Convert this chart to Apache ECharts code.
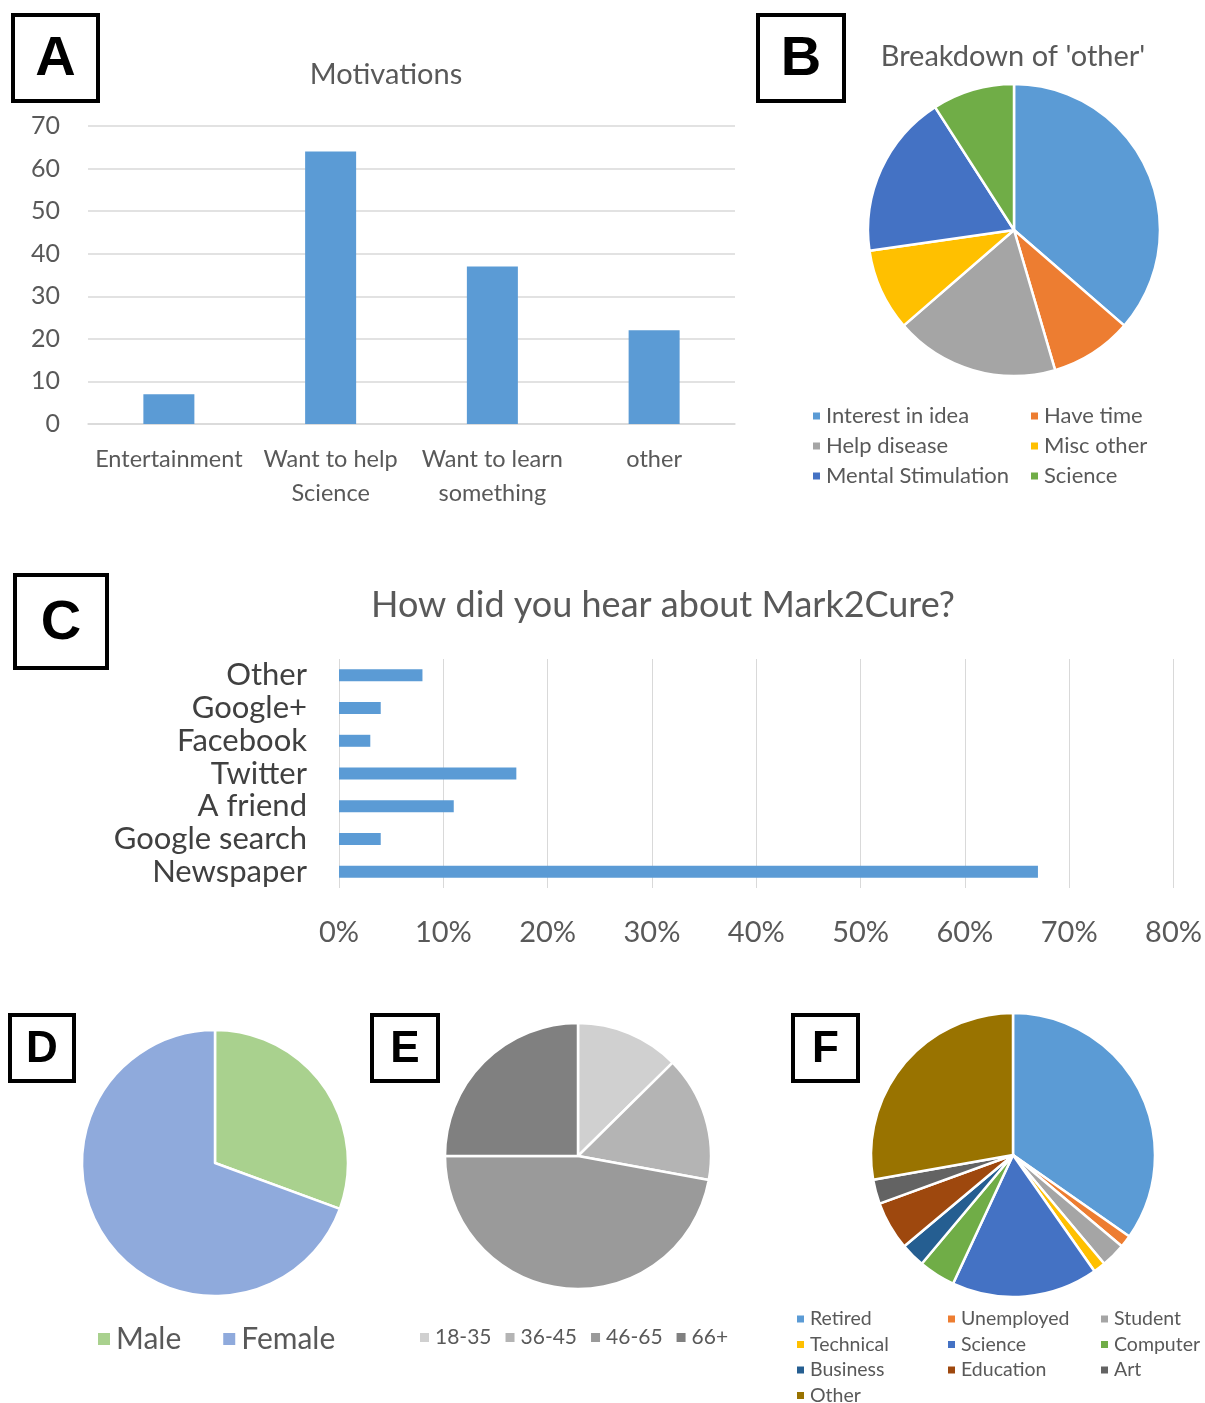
<!DOCTYPE html>
<html>
<head>
<meta charset="utf-8">
<script src="https://cdn.jsdelivr.net/npm/echarts@6/dist/echarts.min.js"></script>
<style>
html,body{margin:0;padding:0;background:#fff;}
#c{width:1205px;height:1403px;}
</style>
</head>
<body>
<div id="c"></div>
<script>
// ---- Data ----
const catsA = ['Entertainment', 'Want to help\nScience', 'Want to learn\nsomething', 'other'];
const valsA = [7, 64, 37, 22];
const ticksA = [0, 10, 20, 30, 40, 50, 60, 70];

const namesB = ['Interest in idea', 'Have time', 'Help disease', 'Misc other', 'Mental Stimulation', 'Science'];
const valsB = [8, 2, 4, 2, 4, 2];
const colorsB = ['#5B9BD5', '#ED7D31', '#A5A5A5', '#FFC000', '#4472C4', '#70AD47'];

const catsC = ['Newspaper', 'Google search', 'A friend', 'Twitter', 'Facebook', 'Google+', 'Other'];
const valsC = [67, 4, 11, 17, 3, 4, 8];
const ticksC = ['0%', '10%', '20%', '30%', '40%', '50%', '60%', '70%', '80%'];

const namesD = ['Male', 'Female'];
const valsD = [30.6, 69.4];
const colorsD = ['#A9D18E', '#8FAADC'];

const namesE = ['18-35', '36-45', '46-65', '66+'];
const valsE = [12.6, 15.3, 47.1, 25.0];
const colorsE = ['#D0D0D0', '#B4B4B4', '#9A9A9A', '#808080'];

const namesF = ['Retired', 'Unemployed', 'Student', 'Technical', 'Science', 'Computer', 'Business', 'Education', 'Art', 'Other'];
const valsF = [25, 1, 2, 1, 12, 3, 2, 4, 2, 20];
const colorsF = ['#5B9BD5', '#ED7D31', '#A5A5A5', '#FFC000', '#4472C4', '#70AD47', '#255E91', '#9E480E', '#636363', '#997300'];

// ---- Helpers ----
const FONT = 'Lato, "Open Sans", sans-serif';
const TXT = '#595959';
function pieData(names, vals, colors) {
  return names.map((n, i) => ({ name: n, value: vals[i], itemStyle: { color: colors[i] } }));
}
function legendItems(names, allNames, colors) {
  return names.map(n => ({ name: n, itemStyle: { color: colors[allNames.indexOf(n)] } }));
}
function panelBox(letter, x, y, w, h, fs) {
  return {
    type: 'group', left: x, top: y,
    children: [
      { type: 'rect', shape: { x: 0, y: 0, width: w, height: h }, style: { fill: '#fff', stroke: '#000', lineWidth: 4 } },
      { type: 'text', x: w / 2, y: h / 2 + 2, style: { text: letter, font: 'bold ' + fs + 'px "Liberation Sans", Arial, sans-serif', fill: '#000', align: 'center', verticalAlign: 'middle' } }
    ]
  };
}
function titleText(t, x, y, fs) {
  return { type: 'text', x: x, y: y, style: { text: t, font: fs + 'px ' + FONT, fill: TXT, align: 'center', verticalAlign: 'middle' } };
}
function legendCol(left, top, items, fs, gap, sz) {
  return {
    orient: 'vertical', left: left, top: top, height: 130, padding: 0, itemGap: gap,
    itemWidth: sz, itemHeight: sz, icon: 'rect', selectedMode: false,
    textStyle: { fontFamily: FONT, fontSize: fs, color: TXT, lineHeight: fs },
    data: items
  };
}

const chart = echarts.init(document.getElementById('c'), null, { renderer: 'canvas' });

const option = {
  backgroundColor: '#fff',
  animation: false,
  grid: [
    { left: 88, top: 126, width: 647, height: 298 },
    { left: 339, top: 659, width: 837, height: 229 }
  ],
  xAxis: [
    {
      gridIndex: 0, type: 'category', data: catsA,
      axisLine: { lineStyle: { color: '#D9D9D9', width: 1.5 } }, axisTick: { show: false },
      axisLabel: { fontFamily: FONT, fontSize: 23.5, color: TXT, margin: 18, lineHeight: 34, interval: 0 }
    },
    {
      gridIndex: 1, type: 'value', min: 0, max: 80, interval: 10,
      axisLine: { show: false }, axisTick: { show: false },
      splitLine: { lineStyle: { color: '#D9D9D9', width: 1 } },
      axisLabel: { fontFamily: FONT, fontSize: 29, color: TXT, margin: 30, formatter: (v) => ticksC[v / 10] }
    }
  ],
  yAxis: [
    {
      gridIndex: 0, type: 'value', min: ticksA[0], max: ticksA[ticksA.length - 1], interval: 10,
      axisLine: { show: false }, axisTick: { show: false },
      splitLine: { lineStyle: { color: '#D9D9D9', width: 1.5 } },
      axisLabel: { fontFamily: FONT, fontSize: 25, color: TXT, margin: 28 }
    },
    {
      gridIndex: 1, type: 'category', data: catsC,
      axisLine: { show: false }, axisTick: { show: false },
      axisLabel: { fontFamily: FONT, fontSize: 31, color: '#404040', margin: 32, interval: 0 }
    }
  ],
  legend: [
    legendCol(811, 405, legendItems(['Interest in idea', 'Help disease', 'Mental Stimulation'], namesB, colorsB), 22, 8, 9),
    legendCol(1029, 405, legendItems(['Have time', 'Misc other', 'Science'], namesB, colorsB), 22, 8, 9),
    {
      orient: 'horizontal', left: 96, top: 1324, padding: 0, itemGap: 40, itemWidth: 14, itemHeight: 14, icon: 'rect', selectedMode: false,
      textStyle: { fontFamily: FONT, fontSize: 30, color: TXT, lineHeight: 30 },
      data: legendItems(namesD, namesD, colorsD)
    },
    {
      orient: 'horizontal', left: 418, top: 1327, padding: 0, itemGap: 12, itemWidth: 11, itemHeight: 11, icon: 'rect', selectedMode: false,
      textStyle: { fontFamily: FONT, fontSize: 21, color: TXT, lineHeight: 21 },
      data: legendItems(namesE, namesE, colorsE)
    },
    legendCol(795, 1309, legendItems(['Retired', 'Technical', 'Business', 'Other'], namesF, colorsF), 19.5, 5.5, 9),
    legendCol(946, 1309, legendItems(['Unemployed', 'Science', 'Education'], namesF, colorsF), 19.5, 5.5, 9),
    legendCol(1099, 1309, legendItems(['Student', 'Computer', 'Art'], namesF, colorsF), 19.5, 5.5, 9)
  ],
  series: [
    {
      name: 'Motivations', type: 'bar', xAxisIndex: 0, yAxisIndex: 0, data: valsA,
      barWidth: 51, itemStyle: { color: '#5B9BD5' }, silent: true
    },
    {
      name: 'Heard', type: 'bar', xAxisIndex: 1, yAxisIndex: 1, data: valsC,
      barWidth: 12, itemStyle: { color: '#5B9BD5' }, silent: true
    },
    {
      name: 'Breakdown', type: 'pie', center: [1014, 230], radius: 146, startAngle: 90, clockwise: true,
      label: { show: false }, labelLine: { show: false }, silent: true,
      itemStyle: { borderColor: '#fff', borderWidth: 2.5 },
      data: pieData(namesB, valsB, colorsB)
    },
    {
      name: 'Gender', type: 'pie', center: [215, 1163], radius: 133, startAngle: 90, clockwise: true,
      label: { show: false }, labelLine: { show: false }, silent: true,
      itemStyle: { borderColor: '#fff', borderWidth: 2.5 },
      data: pieData(namesD, valsD, colorsD)
    },
    {
      name: 'Age', type: 'pie', center: [578, 1156], radius: 133, startAngle: 90, clockwise: true,
      label: { show: false }, labelLine: { show: false }, silent: true,
      itemStyle: { borderColor: '#fff', borderWidth: 2.5 },
      data: pieData(namesE, valsE, colorsE)
    },
    {
      name: 'Occupation', type: 'pie', center: [1013, 1155], radius: 142, startAngle: 90, clockwise: true,
      label: { show: false }, labelLine: { show: false }, silent: true,
      itemStyle: { borderColor: '#fff', borderWidth: 2.5 },
      data: pieData(namesF, valsF, colorsF)
    }
  ],
  graphic: [
    titleText('Motivations', 386, 75, 29),
    titleText("Breakdown of 'other'", 1013, 57, 29),
    titleText('How did you hear about Mark2Cure?', 663, 605, 36),
    panelBox('A', 11, 13, 85, 86, 56),
    panelBox('B', 756, 13, 86, 86, 56),
    panelBox('C', 13, 573, 92, 93, 56),
    panelBox('D', 8, 1013, 64, 66, 44),
    panelBox('E', 370, 1013, 66, 66, 44),
    panelBox('F', 791, 1013, 65, 66, 44)
  ]
};
chart.setOption(option);
</script>
</body>
</html>
